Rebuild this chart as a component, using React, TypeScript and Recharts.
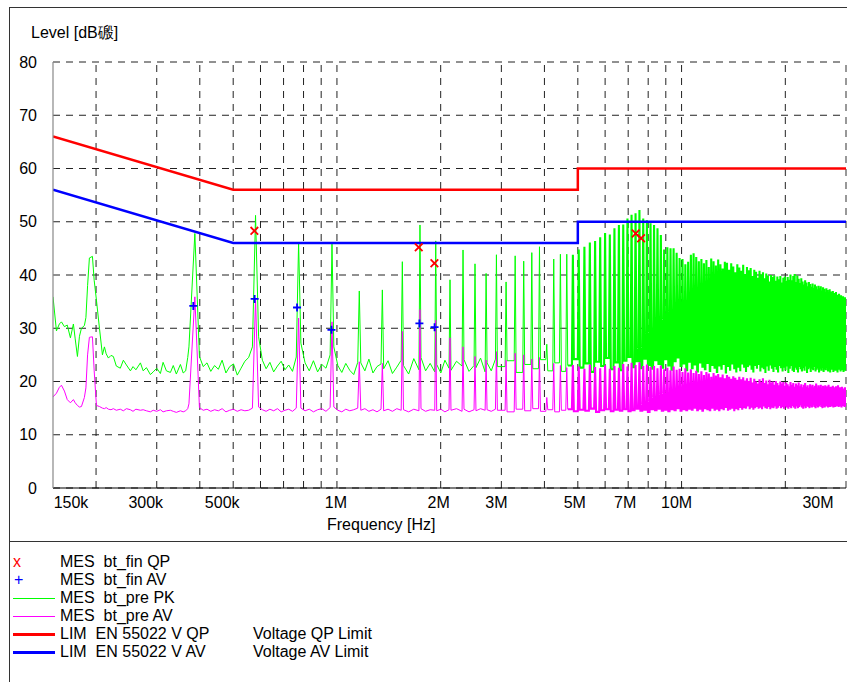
import React from 'react';
import { ComposedChart, Line, XAxis, YAxis, CartesianGrid, ReferenceLine } from 'recharts';

// ---------- data ----------
const F0 = 0.1935; // MHz, fundamental of the harmonic comb seen in the scan

// explicit scan points below the 2nd harmonic (MHz, dBµV)
const lowFreqs = [0.150, 0.1535, 0.1565, 0.1587, 0.1619, 0.1650, 0.1685, 0.1719, 0.1740, 0.1766,
  0.1790, 0.1814, 0.1850, 0.1869, 0.1890, 0.1913, 0.1952, 0.1975, 0.2005, 0.2046,
  0.2087, 0.2115, 0.2140, 0.2172, 0.2210, 0.2245, 0.2290, 0.2352, 0.2400, 0.2450,
  0.2516, 0.2560, 0.2610, 0.2690, 0.2740, 0.2800, 0.2875, 0.2930, 0.3000, 0.3074,
  0.3130, 0.3200, 0.3287, 0.3350, 0.3420, 0.3514, 0.3580, 0.3640, 0.3690, 0.3720];
const lowPk = [35.9, 29.5, 30.8, 31.2, 30.3, 30.6, 28.2, 30.8, 28.0, 24.7,
  28.5, 30.0, 30.5, 32.0, 38.0, 43.2, 43.5, 39.0, 35.3, 30.0,
  25.0, 26.5, 25.2, 24.4, 24.9, 24.7, 22.9, 22.5, 24.0, 23.1,
  22.0, 22.8, 22.2, 23.5, 22.0, 22.6, 21.3, 21.8, 22.5, 21.5,
  23.6, 22.0, 21.7, 23.0, 21.4, 23.2, 21.6, 22.0, 24.5, 26.5];
const lowAv = [17.1, 17.8, 18.9, 19.3, 18.2, 16.6, 16.0, 16.6, 16.0, 15.5,
  15.2, 15.3, 17.0, 18.8, 25.0, 28.3, 28.4, 22.0, 15.5, 15.3,
  15.0, 14.9, 15.1, 14.8, 14.7, 14.9, 14.6, 14.8, 14.5, 14.9,
  14.7, 14.4, 14.8, 14.6, 14.7, 14.5, 14.3, 14.6, 14.4, 14.7,
  14.3, 14.5, 14.6, 14.4, 14.2, 14.5, 14.3, 14.5, 14.9, 15.8];

// peak levels of harmonics n = 2 .. 155 (PK pre-scan, green)
const pkPeaks = [
  47.8, 51.2, 46.1, 45.8, 37.0, 37.2, 42.5, 49.4, 46.4, 39.1,
  44.7, 42.1, 40.3, 43.8, 38.7, 43.6, 42.6, 44.2, 45.3, 27.0,
  43.0, 43.9, 43.9, 43.8, 44.8, 45.3, 46.1, 46.4, 47.1, 47.9,
  47.6, 48.8, 49.4, 49.5, 50.6, 51.3, 51.6, 52.2, 50.6, 50.3,
  49.7, 49.4, 48.8, 47.5, 44.8, 45.2, 45.0, 45.0, 44.2, 43.2,
  43.0, 42.0, 42.5, 43.8, 44.1, 43.4, 42.6, 43.0, 42.2, 42.8,
  41.5, 43.1, 42.6, 41.8, 42.9, 42.0, 41.2, 42.5, 42.3, 41.0,
  42.2, 41.6, 40.5, 42.0, 41.4, 40.8, 41.9, 40.2, 41.5, 40.9,
  41.3, 39.8, 41.0, 40.6, 39.5, 40.8, 40.1, 40.5, 39.4, 40.3,
  39.9, 38.8, 40.0, 39.6, 39.9, 38.9, 39.7, 39.2, 39.8, 38.6,
  39.5, 39.7, 38.9, 39.6, 39.1, 40.1, 39.0, 39.8, 40.2, 38.7,
  39.9, 39.3, 38.5, 39.4, 38.8, 38.2, 39.0, 38.6, 37.9, 38.7,
  38.3, 37.8, 38.4, 37.6, 38.2, 37.9, 37.3, 38.0, 37.5, 37.9,
  37.1, 37.7, 37.4, 36.8, 37.5, 37.2, 36.7, 37.3, 36.9, 36.4,
  37.0, 36.6, 36.2, 36.8, 36.3, 36.0, 36.5, 35.9, 36.2, 35.7,
  36.0, 35.6, 35.8, 35.5];

// peak levels of harmonics n = 2 .. 155 (AV pre-scan, magenta)
const avPeaks = [
  35.9, 35.6, 31.9, 31.2, 23.7, 23.4, 29.4, 33.5, 31.5, 28.2,
  26.5, 24.7, 24.0, 25.6, 24.0, 25.3, 25.0, 24.2, 24.5, 17.0,
  23.4, 23.0, 22.6, 23.1, 22.8, 22.4, 23.2, 22.7, 22.5, 23.0,
  22.4, 22.9, 22.6, 23.3, 22.8, 23.5, 23.1, 23.6, 22.9, 23.2,
  22.7, 22.9, 22.5, 23.0, 22.3, 22.6, 22.1, 22.8, 22.2, 22.4,
  21.8, 22.5, 21.7, 22.3, 21.6, 22.0, 21.4, 21.9, 21.2, 21.8,
  21.5, 20.9, 21.6, 21.1, 21.4, 20.8, 21.3, 20.6, 21.2, 20.9,
  20.5, 21.0, 20.7, 20.3, 20.9, 20.4, 20.8, 20.2, 20.6,
  20.1, 20.7, 19.8, 20.5, 20.0, 19.6, 20.4, 19.9, 20.6, 19.7,
  20.2, 19.5, 20.3, 19.8, 20.0, 19.4, 20.1, 19.7, 19.3, 20.0,
  19.6, 19.9, 19.2, 19.8, 19.5, 19.1, 19.9, 19.4, 19.7, 19.0,
  19.6, 19.3, 19.8, 19.1, 19.5, 18.9, 19.4, 19.7, 19.0, 19.3,
  18.8, 19.5, 19.1, 19.4, 18.9, 19.2, 19.6, 18.8, 19.3, 19.0,
  19.4, 18.7, 19.2, 18.9, 19.3, 18.6, 19.1, 19.4, 18.8, 19.0,
  18.7, 19.2, 18.9, 18.5, 19.1, 18.8, 19.3, 18.6, 18.9, 18.4,
  19.0, 18.7, 18.5, 18.9, 18.6];

// noise floor between harmonics n..n+1 for n = 2 .. 14 (several readings per gap)
const pkFloorLow = [
  [24.7, 22.8, 23.5, 21.9, 23.0, 22.3, 24.0, 21.6, 22.8, 23.3, 21.2, 22.5, 23.8, 24.5, 26.5],
  [28.4, 24.0, 22.4, 23.6, 21.8, 22.9, 23.8, 22.2, 23.1, 21.9, 24.6],
  [27.2, 23.5, 22.0, 23.9, 21.8, 23.2, 22.5, 25.0],
  [26.5, 23.0, 21.7, 23.4, 22.1, 21.3, 23.6],
  [23.5, 22.0, 24.2, 21.6, 22.8, 23.3],
  [22.4, 23.9, 21.5, 22.7, 24.0],
  [23.0, 21.4, 24.3, 22.2],
  [24.5, 22.0, 23.4, 21.8],
  [23.2, 21.6, 24.0, 22.5],
  [22.1, 23.8, 22.9],
  [24.1, 21.9, 23.0],
  [22.6, 24.4, 21.8],
  [23.5, 22.0, 24.2]];
const avFloorLow = [
  [15.1, 14.6, 14.8, 14.4, 14.7, 14.5, 14.9, 14.3, 14.6, 14.8, 14.4, 14.7, 14.5, 14.6, 15.0],
  [15.2, 14.7, 14.4, 14.8, 14.5, 14.9, 14.3, 14.6, 14.8, 14.4, 15.0],
  [15.0, 14.5, 14.8, 14.3, 14.7, 14.9, 14.4, 15.1],
  [15.2, 14.6, 14.3, 14.8, 14.5, 14.7, 15.0],
  [14.6, 14.9, 14.4, 14.7, 14.3, 14.8],
  [14.5, 14.8, 14.4, 14.9, 14.6],
  [14.7, 14.3, 14.8, 14.5],
  [14.9, 14.4, 14.7, 14.6],
  [14.5, 14.8, 14.3, 14.7],
  [14.6, 14.9, 14.4],
  [14.8, 14.3, 14.7],
  [14.5, 14.9, 14.6],
  [14.7, 14.4, 14.8]];

// noise floor between harmonics n..n+1 for n = 15 .. 154, then the tail to 30 MHz
const pkFloorHigh = [
  22.8, 23.9, 21.7, 23.2, 22.4, 24.1, 22.0, 23.5, 21.9, 23.0,
  24.2, 22.6, 23.4, 21.8, 23.7, 22.9, 24.4, 22.3, 23.6, 22.1,
  23.9, 24.6, 22.7, 23.8, 22.5, 24.3, 23.1, 22.4, 24.0, 23.3,
  22.6, 24.2, 23.0, 22.2, 23.8, 24.5, 22.9, 23.4, 22.1, 23.7,
  22.5, 23.2, 21.9, 23.6, 22.8, 22.3, 23.5, 22.0, 23.1, 22.6,
  21.8, 23.0, 22.4, 23.3, 21.7, 22.9, 22.2, 23.4, 22.5, 21.9,
  22.8, 22.1, 23.2, 22.6, 21.8, 22.7, 23.0, 22.2, 21.7, 22.9,
  22.4, 23.1, 21.9, 22.6, 22.3, 21.6, 22.8, 22.0, 23.0, 22.4,
  21.8, 22.7, 22.2, 21.7, 22.9, 22.5, 21.9, 22.6, 22.1, 22.8,
  21.6, 22.4, 22.9, 22.0, 21.8, 22.6, 22.2, 21.7, 22.7, 22.3,
  21.9, 22.5, 22.0, 22.8, 21.6, 22.3, 22.6, 21.8, 22.4, 22.1,
  22.7, 21.9, 22.2, 22.5, 21.7, 22.4, 22.0, 22.6, 21.8, 22.3,
  22.1, 22.6, 21.9, 22.4, 21.7, 22.2, 22.5, 21.8, 22.3, 22.0,
  22.4, 21.7, 22.2, 22.6, 21.9, 22.1, 22.5, 21.8, 22.3, 22.0,
  22.2];
const avFloorHigh = [
  14.6, 14.3, 14.8, 14.5, 14.9, 14.4, 14.7, 14.3, 14.6, 14.8,
  14.4, 14.7, 14.5, 14.9, 14.3, 14.6, 14.8, 14.4, 14.7, 14.5,
  14.8, 14.4, 14.6, 14.9, 14.5, 14.7, 14.3, 14.8, 14.6, 14.9,
  14.5, 14.7, 14.4, 14.8, 14.6, 15.0, 14.5, 14.8, 14.6, 14.9,
  14.7, 15.1, 14.6, 14.9, 14.5, 15.0, 14.8, 14.6, 15.1, 14.7,
  14.9, 14.6, 15.0, 14.8, 15.2, 14.7, 14.9, 15.1, 14.6, 15.0,
  14.8, 15.2, 14.7, 15.0, 14.9, 15.3, 14.8, 15.1, 14.7, 15.0,
  15.2, 14.9, 15.1, 14.8, 15.3, 15.0, 14.9, 15.2, 14.8, 15.1,
  15.0, 15.3, 14.9, 15.1, 15.4, 15.0, 15.2, 14.9, 15.3, 15.1,
  14.9, 15.2, 15.0, 15.4, 15.1, 14.9, 15.3, 15.0, 15.2, 15.5,
  15.1, 14.9, 15.3, 15.0, 15.4, 15.2, 15.0, 15.3, 15.1, 15.5,
  15.2, 15.0, 15.4, 15.1, 15.3, 15.6, 15.2, 15.0, 15.4, 15.1,
  15.3, 15.5, 15.1, 15.4, 15.2, 15.6, 15.3, 15.1, 15.5, 15.2,
  15.4, 15.6, 15.2, 15.5, 15.3, 15.1, 15.6, 15.4, 15.2, 15.5,
  15.3];

// limit lines
const limitFreqs = [0.15, 0.5, 5, 5, 30];
const qpLimit = [66, 56, 56, 60, 60];
const avLimit = [56, 46, 46, 50, 50];

// final measurements
const qpMarkFreqs = [0.576, 1.727, 1.918, 7.36, 7.63];
const qpMarkLevels = [48.3, 45.2, 42.2, 47.8, 46.9];
const avMarkFreqs = [0.383, 0.577, 0.766, 0.964, 1.735, 1.92];
const avMarkLevels = [34.2, 35.5, 33.9, 29.7, 30.9, 30.2];

// axes
const xTicks = [0.15, 0.3, 0.5, 1, 2, 3, 5, 7, 10, 30];
const xTickLabels = ['150k', '300k', '500k', '1M', '2M', '3M', '5M', '7M', '10M', '30M'];
const gridFreqs = [0.2, 0.3, 0.4, 0.5, 0.6, 0.7, 0.8, 0.9, 1, 2, 3, 4, 5, 6, 7, 8, 9, 10, 20, 30];
const yTicks = [0, 10, 20, 30, 40, 50, 60, 70, 80];

const legendRows = [
  { kind: 'x', text: 'MES  bt_fin QP', note: '' },
  { kind: '+', text: 'MES  bt_fin AV', note: '' },
  { kind: 'green', text: 'MES  bt_pre PK', note: '' },
  { kind: 'magenta', text: 'MES  bt_pre AV', note: '' },
  { kind: 'red', text: 'LIM  EN 55022 V QP', note: 'Voltage QP Limit' },
  { kind: 'blue', text: 'LIM  EN 55022 V AV', note: 'Voltage AV Limit' },
];

// ---------- build series ----------
type Pt = { f: number; pk: number; av: number };
function buildTrace(): Pt[] {
  const pts: Pt[] = lowFreqs.map((f, i) => ({ f, pk: lowPk[i], av: lowAv[i] }));
  const count = Math.min(pkPeaks.length, avPeaks.length);
  const nLow = pkFloorLow.length;
  const halfWidth = (f: number) => Math.max(0.012, f * 0.0065); // spike half width (MHz)
  for (let i = 0; i < count; i++) {
    const f = (i + 2) * F0;
    pts.push({ f, pk: pkPeaks[i], av: avPeaks[i] });
    const gp = i < nLow ? pkFloorLow[i] : [pkFloorHigh[Math.min(i - nLow, pkFloorHigh.length - 1)]];
    const ga = i < nLow ? avFloorLow[i] : [avFloorHigh[Math.min(i - nLow, avFloorHigh.length - 1)]];
    if (i === count - 1) {
      pts.push({ f: 30, pk: gp[0], av: ga[0] });
      break;
    }
    const fNext = (i + 3) * F0;
    const a = f + halfWidth(f);
    const b = fNext - halfWidth(fNext);
    const m = gp.length;
    if (m === 1) {
      if (a < b) {
        pts.push({ f: a, pk: gp[0], av: ga[0] });
        pts.push({ f: b, pk: gp[0], av: ga[0] });
      } else {
        pts.push({ f: Math.sqrt(f * fNext), pk: gp[0], av: ga[0] });
      }
    } else {
      for (let k = 0; k < m; k++) {
        const t = k / (m - 1);
        pts.push({ f: a * Math.pow(b / a, t), pk: gp[k], av: ga[k] });
      }
    }
  }
  return pts;
}
const trace = buildTrace();
// the dense upper band is drawn with a slightly heavier pen, as in the plotter output
const SPLIT = 4.7;
let splitIdx = trace.findIndex((p) => p.f > SPLIT);
if (splitIdx < 1) splitIdx = trace.length;
const traceLow = trace.slice(0, splitIdx);
const traceHigh = trace.slice(Math.max(0, splitIdx - 1));

const qpLimitData = limitFreqs.map((f, i) => ({ f, v: qpLimit[i] }));
const avLimitData = limitFreqs.map((f, i) => ({ f, v: avLimit[i] }));
const qpMarks = qpMarkFreqs.map((f, i) => ({ f, v: qpMarkLevels[i] }));
const avMarks = avMarkFreqs.map((f, i) => ({ f, v: avMarkLevels[i] }));

// ---------- rendering ----------
const FONT = '"Liberation Sans", Arial, Helvetica, sans-serif';
const labelShift: Record<string, number> = {
  '150k': 18, '300k': -11, '500k': -11, '1M': -1, '2M': -2, '3M': -5, '5M': -3, '7M': -3, '10M': -5, '30M': -28,
};

const XTick = (props: any) => {
  const { x, y, payload } = props;
  const idx = xTicks.indexOf(payload.value);
  const label = idx >= 0 ? xTickLabels[idx] : '';
  return (
    <text x={x + (labelShift[label] || 0)} y={y} dy={19.5} textAnchor="middle" fontSize={16} fontFamily={FONT} fill="#000">
      {label}
    </text>
  );
};

const XMark = (p: any) => {
  const { cx, cy } = p;
  if (cx == null || cy == null) return <g key={p.key} />;
  const s = 3.8;
  return (
    <path key={p.key} d={`M${cx - s},${cy - s}L${cx + s},${cy + s}M${cx + s},${cy - s}L${cx - s},${cy + s}`}
      stroke="#ff0000" strokeWidth={1.8} fill="none" />
  );
};
const PlusMark = (p: any) => {
  const { cx, cy } = p;
  if (cx == null || cy == null) return <g key={p.key} />;
  const s = 4;
  return (
    <path key={p.key} d={`M${cx - s},${cy}L${cx + s},${cy}M${cx},${cy - s}L${cx},${cy + s}`}
      stroke="#0000ff" strokeWidth={1.8} fill="none" />
  );
};

const legendColor: Record<string, string> = { green: '#00ff00', magenta: '#ff00ff', red: '#ff0000', blue: '#0000ff' };

export default function App() {
  return (
    <div style={{ position: 'absolute', left: 0, top: 0, width: 847, height: 682, background: '#fff', overflow: 'hidden', fontFamily: FONT }}>
      {/* frame */}
      <div style={{ position: 'absolute', left: 9, top: 7, width: 860, height: 533, borderTop: '1px solid #333', borderLeft: '1px solid #333', borderBottom: '1px solid #333' }} />
      <div style={{ position: 'absolute', left: 9, top: 541, width: 0, height: 141, borderLeft: '1px solid #333' }} />

      <div style={{ position: 'absolute', left: 31, top: 24, fontSize: 16, lineHeight: '18px', color: '#000', whiteSpace: 'pre' }}>Level [dB磤]</div>
      <div style={{ position: 'absolute', left: 327, top: 516, fontSize: 16, lineHeight: '18px', color: '#000', whiteSpace: 'pre' }}>Frequency [Hz]</div>

      <div style={{ position: 'absolute', left: 0, top: 0 }}>
        <ComposedChart width={847} height={541} margin={{ top: 62, right: 1, bottom: 23, left: 10 }}>
          <CartesianGrid stroke="#222" strokeDasharray="7 6" horizontal={true} vertical={false} />
          <XAxis
            dataKey="f"
            type="number"
            scale="log"
            domain={[0.15, 30]}
            allowDataOverflow
            ticks={xTicks}
            interval={0}
            tick={<XTick />}
            tickLine={false}
            tickSize={0}
            tickMargin={0}
            height={30}
            axisLine={{ stroke: '#000', strokeWidth: 1.2 }}
          />
          <YAxis
            type="number"
            domain={[0, 80]}
            ticks={yTicks}
            interval={0}
            allowDataOverflow
            width={43}
            tickLine={false}
            tickSize={0}
            tickMargin={16}
            tick={{ fill: '#000', fontSize: 16, fontFamily: FONT }}
            axisLine={{ stroke: '#888', strokeWidth: 1.2 }}
          />
          {gridFreqs.map((f) => (
            <ReferenceLine key={'g' + f} x={f} stroke={f === 30 ? '#777' : '#222'} strokeWidth={f === 30 ? 1.5 : 1} strokeDasharray="7 6" ifOverflow="extendDomain" />
          ))}
          <Line data={traceLow} dataKey="pk" stroke="#00ff00" strokeWidth={1} dot={false} activeDot={false} isAnimationActive={false} />
          <Line data={traceHigh} dataKey="pk" stroke="#00ff00" strokeWidth={2.1} dot={false} activeDot={false} isAnimationActive={false} />
          <Line data={traceLow} dataKey="av" stroke="#ff00ff" strokeWidth={1} dot={false} activeDot={false} isAnimationActive={false} />
          <Line data={traceHigh} dataKey="av" stroke="#ff00ff" strokeWidth={2.1} dot={false} activeDot={false} isAnimationActive={false} />
          <Line data={qpLimitData} dataKey="v" stroke="#ff0000" strokeWidth={2.5} dot={false} activeDot={false} isAnimationActive={false} />
          <Line data={avLimitData} dataKey="v" stroke="#0000ff" strokeWidth={2.5} dot={false} activeDot={false} isAnimationActive={false} />
          <Line data={qpMarks} dataKey="v" stroke="none" dot={<XMark />} activeDot={false} isAnimationActive={false} />
          <Line data={avMarks} dataKey="v" stroke="none" dot={<PlusMark />} activeDot={false} isAnimationActive={false} />
        </ComposedChart>
      </div>

      {/* legend */}
      {legendRows.map((r, i) => {
        const top = 553 + i * 18;
        return (
          <React.Fragment key={i}>
            {r.kind === 'x' && (
              <div style={{ position: 'absolute', left: 13, top, fontSize: 16, lineHeight: '18px', color: '#ff0000' }}>x</div>
            )}
            {r.kind === '+' && (
              <div style={{ position: 'absolute', left: 14, top, fontSize: 16, lineHeight: '18px', color: '#0000ff' }}>+</div>
            )}
            {legendColor[r.kind] && (
              <div style={{
                position: 'absolute', left: 13, width: 42,
                top: top + 9 - ((r.kind === 'red' || r.kind === 'blue') ? 1 : 0.5),
                height: (r.kind === 'red' || r.kind === 'blue') ? 2.5 : 1,
                background: legendColor[r.kind],
              }} />
            )}
            <div style={{ position: 'absolute', left: 60, top, fontSize: 16, lineHeight: '18px', color: '#000', whiteSpace: 'pre' }}>{r.text}</div>
            {r.note && (
              <div style={{ position: 'absolute', left: 253, top, fontSize: 16, lineHeight: '18px', color: '#000', whiteSpace: 'pre' }}>{r.note}</div>
            )}
          </React.Fragment>
        );
      })}
    </div>
  );
}
